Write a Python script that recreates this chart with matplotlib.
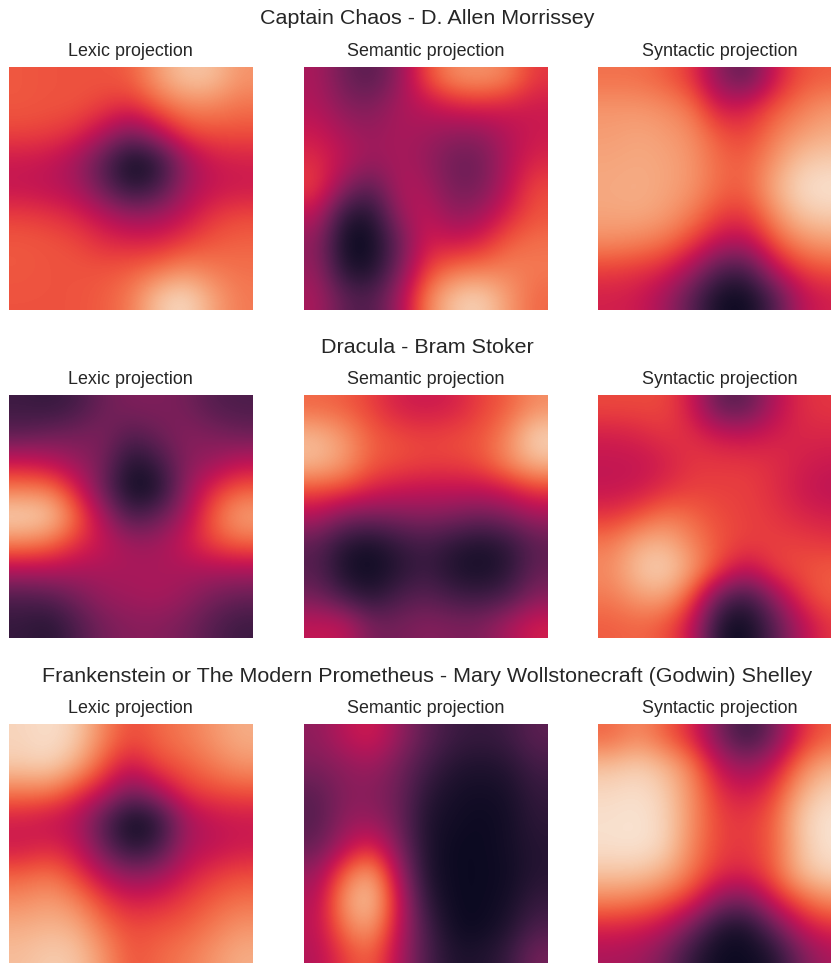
import numpy as np
import matplotlib
matplotlib.use("Agg")
import matplotlib.pyplot as plt
import seaborn as sns

plt.rcParams['font.family'] = ['Liberation Sans', 'DejaVu Sans']

books = ["Captain Chaos - D. Allen Morrissey", "Dracula - Bram Stoker",
         "Frankenstein or The Modern Prometheus - Mary Wollstonecraft (Godwin) Shelley"]
projections = ["Lexic projection", "Semantic projection", "Syntactic projection"]

chaos_lexic = [
 [.65,.64,.64,.64,.66,.80,.90,.89,.78],
 [.65,.64,.64,.60,.56,.66,.74,.74,.70],
 [.61,.60,.56,.44,.30,.44,.60,.63,.63],
 [.50,.48,.40,.22,.03,.10,.38,.50,.52],
 [.48,.46,.42,.26,.10,.18,.40,.48,.50],
 [.60,.58,.54,.46,.38,.40,.48,.58,.62],
 [.65,.64,.62,.56,.54,.54,.60,.65,.67],
 [.65,.64,.64,.64,.66,.70,.76,.72,.70],
 [.64,.64,.64,.66,.72,.90,.96,.82,.72]]
chaos_semantic = [
 [.42,.28,.22,.36,.62,.76,.78,.74,.58],
 [.44,.34,.32,.42,.46,.52,.54,.52,.50],
 [.50,.42,.38,.42,.40,.36,.36,.44,.50],
 [.56,.46,.38,.42,.38,.28,.28,.44,.54],
 [.60,.34,.22,.44,.42,.30,.30,.46,.62],
 [.46,.10,.08,.38,.48,.36,.40,.54,.64],
 [.36,.03,.03,.26,.52,.50,.54,.66,.70],
 [.38,.08,.06,.30,.60,.70,.72,.74,.72],
 [.42,.24,.20,.40,.72,.90,.94,.80,.68]]
chaos_syntactic = [
 [.70,.70,.66,.58,.34,.24,.50,.64,.66],
 [.78,.78,.76,.70,.50,.52,.64,.72,.78],
 [.80,.82,.80,.76,.64,.60,.72,.80,.84],
 [.82,.83,.82,.78,.68,.66,.78,.90,.92],
 [.83,.84,.82,.78,.68,.66,.84,.96,.98],
 [.82,.83,.80,.72,.60,.58,.76,.90,.92],
 [.76,.74,.70,.60,.46,.44,.64,.76,.80],
 [.60,.58,.54,.40,.20,.18,.46,.60,.64],
 [.52,.50,.40,.22,.04,.03,.20,.46,.52]]
dracula_lexic = [
 [.16,.14,.18,.28,.32,.32,.30,.22,.20],
 [.24,.28,.30,.32,.22,.28,.34,.32,.28],
 [.50,.46,.38,.30,.08,.16,.34,.38,.46],
 [.72,.72,.54,.26,.03,.06,.36,.56,.66],
 [.95,.92,.68,.42,.18,.26,.42,.66,.82],
 [.74,.70,.58,.48,.40,.40,.50,.62,.68],
 [.44,.44,.42,.42,.42,.42,.42,.42,.42],
 [.20,.22,.30,.38,.40,.42,.38,.30,.26],
 [.14,.10,.20,.30,.34,.34,.30,.22,.16]]
dracula_semantic = [
 [.68,.66,.60,.52,.50,.52,.60,.66,.76],
 [.86,.78,.66,.62,.60,.62,.64,.74,.94],
 [.88,.80,.66,.63,.61,.61,.64,.76,.88],
 [.64,.62,.54,.50,.48,.48,.48,.52,.60],
 [.44,.32,.30,.32,.34,.32,.28,.32,.40],
 [.24,.10,.06,.14,.18,.12,.08,.12,.24],
 [.22,.06,.03,.10,.16,.08,.05,.10,.26],
 [.30,.18,.10,.20,.24,.18,.16,.20,.34],
 [.48,.48,.30,.30,.34,.32,.32,.42,.52]]
dracula_syntactic = [
 [.62,.62,.62,.50,.24,.24,.44,.56,.58],
 [.52,.54,.58,.56,.50,.48,.52,.54,.54],
 [.48,.48,.52,.58,.58,.58,.56,.52,.50],
 [.48,.50,.56,.60,.60,.60,.56,.50,.46],
 [.58,.64,.72,.68,.62,.60,.58,.54,.52],
 [.72,.84,.86,.74,.64,.60,.60,.60,.58],
 [.76,.90,.94,.80,.60,.46,.60,.63,.66],
 [.72,.80,.82,.62,.24,.14,.36,.58,.66],
 [.66,.68,.64,.48,.06,.03,.22,.44,.58]]
frank_lexic = [
 [.94,.97,.92,.74,.62,.68,.72,.78,.84],
 [.92,.94,.84,.64,.50,.62,.66,.72,.78],
 [.72,.72,.60,.48,.30,.42,.58,.62,.64],
 [.52,.48,.44,.22,.03,.10,.40,.48,.50],
 [.50,.54,.48,.26,.08,.16,.42,.46,.50],
 [.66,.70,.60,.44,.34,.38,.50,.58,.62],
 [.76,.80,.74,.60,.52,.54,.60,.66,.70],
 [.84,.86,.84,.70,.62,.64,.66,.72,.78],
 [.88,.92,.90,.78,.64,.68,.72,.78,.84]]
frank_semantic = [
 [.36,.46,.52,.38,.24,.16,.14,.16,.24],
 [.32,.36,.40,.30,.18,.10,.08,.10,.18],
 [.24,.34,.34,.28,.12,.06,.05,.06,.14],
 [.22,.36,.38,.28,.08,.05,.03,.05,.12],
 [.26,.44,.56,.32,.08,.03,.03,.05,.10],
 [.38,.68,.84,.42,.08,.03,.03,.04,.10],
 [.44,.80,.92,.50,.12,.03,.03,.05,.14],
 [.46,.72,.82,.48,.18,.04,.03,.08,.20],
 [.44,.60,.68,.44,.20,.08,.08,.14,.30]]
frank_syntactic = [
 [.68,.76,.66,.54,.30,.14,.30,.56,.66],
 [.88,.92,.86,.72,.46,.36,.48,.72,.84],
 [.95,.97,.92,.76,.56,.50,.60,.84,.94],
 [.97,.98,.94,.76,.60,.58,.66,.92,.98],
 [.97,.98,.94,.74,.60,.58,.66,.90,.98],
 [.90,.90,.84,.70,.56,.54,.66,.88,.94],
 [.74,.72,.66,.56,.34,.30,.52,.66,.76],
 [.54,.52,.46,.28,.08,.06,.26,.48,.56],
 [.42,.40,.30,.12,.03,.03,.08,.30,.42]]

panels = [[chaos_lexic, chaos_semantic, chaos_syntactic],
          [dracula_lexic, dracula_semantic, dracula_syntactic],
          [frank_lexic, frank_semantic, frank_syntactic]]

W, H = 831, 963
fig = plt.figure(figsize=(W/100, H/100), dpi=100, facecolor='white')
cmap = sns.color_palette("rocket", as_cmap=True)
xs = [9, 303.5, 598]
ys = [67, 395, 724]
SIZE = 243.5
title_y = [19, 347, 677]
for r, row in enumerate(panels):
    fig.text(427/W, 1 - title_y[r]/H, books[r], ha='center', va='center', fontsize=15.45, color='#262626')
    for c, vals in enumerate(row):
        ax = fig.add_axes([xs[c]/W, 1 - (ys[r]+SIZE)/H, SIZE/W, SIZE/H])
        ax.imshow(np.array(vals), cmap=cmap, vmin=0, vmax=1, interpolation='bicubic', aspect='auto')
        ax.axis('off')
        fig.text((xs[c]+SIZE/2)/W, 1 - (ys[r]-15.5)/H, projections[c], ha='center', va='center', fontsize=12.85, color='#262626')
fig.savefig("out.png", dpi=100)
